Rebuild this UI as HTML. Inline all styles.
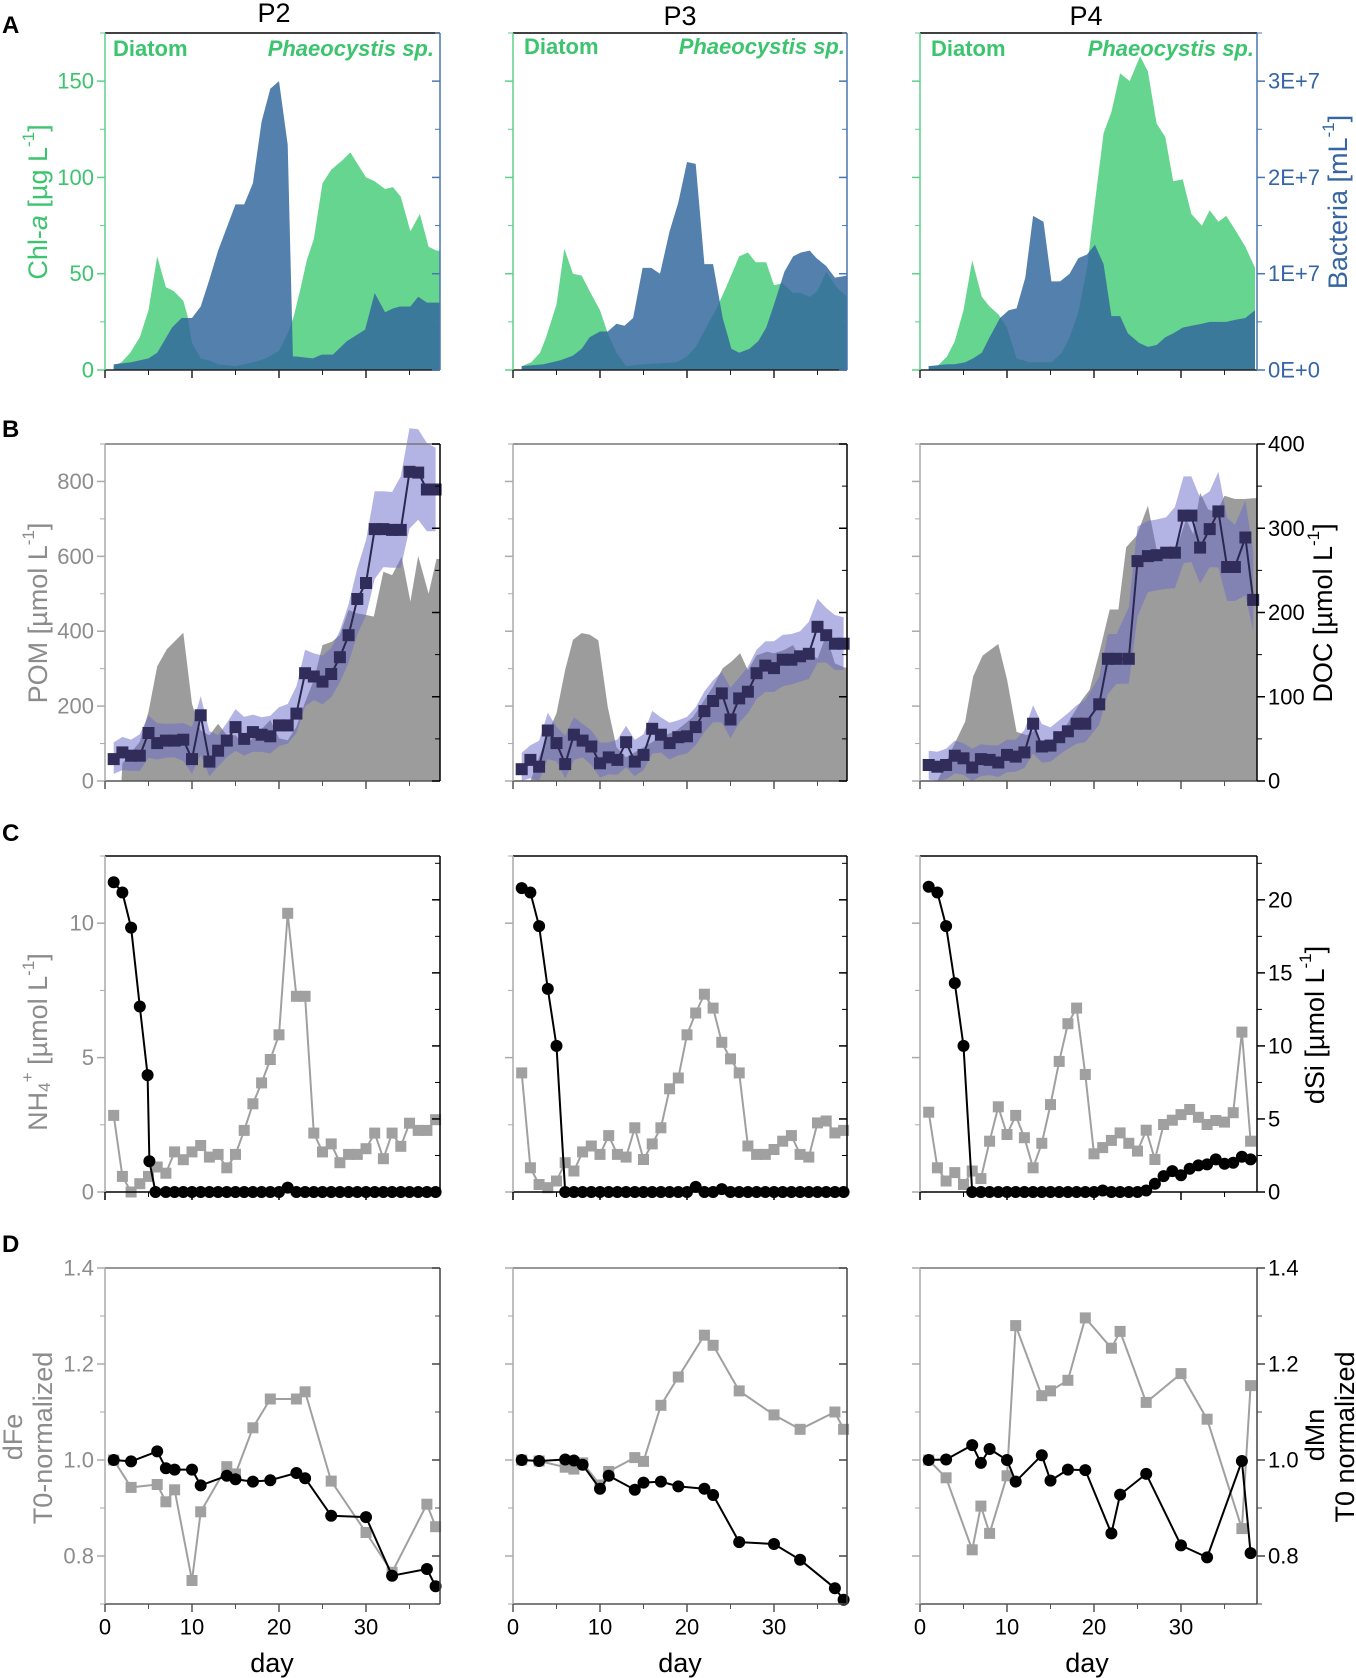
<!DOCTYPE html>
<html><head><meta charset="utf-8">
<style>
html,body{margin:0;padding:0;background:#fff;}
svg{display:block;font-family:"Liberation Sans",Arial,sans-serif;}
</style></head>
<body>
<svg id="fig" width="1356" height="1678" viewBox="0 0 1356 1678" xmlns="http://www.w3.org/2000/svg">
  <rect x="0" y="0" width="1356" height="1678" fill="#fff"/>
  <g id="marks"></g>
  <g id="axes"></g>
  <g font-weight="bold" font-size="24" fill="#000">
    <text x="2" y="33">A</text>
    <text x="2" y="437">B</text>
    <text x="2" y="841">C</text>
    <text x="2" y="1252">D</text>
  </g>
  <g font-size="27" fill="#000" text-anchor="middle">
    <text x="274" y="22">P2</text>
    <text x="680" y="25">P3</text>
    <text x="1086" y="25">P4</text>
  </g>
  <g font-size="22" font-weight="bold" fill="#3cc46e">
    <text x="113" y="56">Diatom</text>
    <text x="434" y="56" text-anchor="end" font-style="italic">Phaeocystis sp.</text>
    <text x="524" y="54">Diatom</text>
    <text x="845" y="54" text-anchor="end" font-style="italic">Phaeocystis sp.</text>
    <text x="931" y="56">Diatom</text>
    <text x="1254" y="56" text-anchor="end" font-style="italic">Phaeocystis sp.</text>
  </g>
  <g font-size="27">
    <text transform="translate(38,202) rotate(-90)" text-anchor="middle" dominant-baseline="central" fill="#3cc46e">Chl-<tspan font-style="italic">a</tspan> [µg L<tspan font-size="17" dy="-10">-1</tspan><tspan dy="10">]</tspan></text>
    <text transform="translate(1338,202) rotate(-90)" text-anchor="middle" dominant-baseline="central" fill="#3565a3">Bacteria [mL<tspan font-size="17" dy="-10">-1</tspan><tspan dy="10">]</tspan></text>
    <text transform="translate(38,613) rotate(-90)" text-anchor="middle" dominant-baseline="central" fill="#8c8c8c">POM [µmol L<tspan font-size="17" dy="-10">-1</tspan><tspan dy="10">]</tspan></text>
    <text transform="translate(1323,613) rotate(-90)" text-anchor="middle" dominant-baseline="central" fill="#000">DOC [µmol L<tspan font-size="17" dy="-10">-1</tspan><tspan dy="10">]</tspan></text>
    <text transform="translate(38,1042) rotate(-90)" text-anchor="middle" dominant-baseline="central" fill="#8c8c8c">NH<tspan font-size="17" dy="6">4</tspan><tspan font-size="17" dy="-17">+</tspan><tspan dy="11"> [µmol L</tspan><tspan font-size="17" dy="-10">-1</tspan><tspan dy="10">]</tspan></text>
    <text transform="translate(1315,1025) rotate(-90)" text-anchor="middle" dominant-baseline="central" fill="#000">dSi [µmol L<tspan font-size="17" dy="-10">-1</tspan><tspan dy="10">]</tspan></text>
    <text transform="translate(13,1437) rotate(-90)" text-anchor="middle" dominant-baseline="central" fill="#8c8c8c">dFe</text>
    <text transform="translate(43,1438) rotate(-90)" text-anchor="middle" dominant-baseline="central" fill="#8c8c8c">T0-normalized</text>
    <text transform="translate(1315,1435) rotate(-90)" text-anchor="middle" dominant-baseline="central" fill="#000">dMn</text>
    <text transform="translate(1345,1437) rotate(-90)" text-anchor="middle" dominant-baseline="central" fill="#000">T0 normalized</text>
    <text x="272" y="1663" text-anchor="middle" dominant-baseline="central">day</text>
    <text x="680" y="1663" text-anchor="middle" dominant-baseline="central">day</text>
    <text x="1087" y="1663" text-anchor="middle" dominant-baseline="central">day</text>
  </g>
</svg>
<script>
// ---------- Row A: Chl-a (µg/L) and bacteria (1E7 /mL) ----------
const chlP2Days=[1,1.9,2.9,4,5,6,7,7.9,9,9.5,10,11,12,13,15,17,18.5,20,21,21.7,22.5,23.2,24,25,26,27.3,28.2,30,31,32.2,33.1,34,35.1,36.2,37.2,38.1,38.5];
const chlP2=[2,4,9,17,31,59,43,41,36,28,14,6,5,3,2,4,6,10,19,28,43,57,68,97,104,109,113,100,98,94,95,90,72,81,64,62,62];
const bacP2Days=[1,3,5,6,7.7,8.8,10,11,12,13,15,16,17,18,19,20,21,21.6,22,23.9,24.9,26.2,27.8,29.9,31,32.2,33.1,33.9,35.1,36,37,38.5];
const bacP2=[0.06,0.08,0.12,0.18,0.44,0.54,0.54,0.66,0.94,1.24,1.72,1.72,1.94,2.58,2.92,3.0,2.34,0.14,0.14,0.12,0.16,0.16,0.3,0.42,0.8,0.6,0.64,0.66,0.66,0.76,0.7,0.7];
const chlP3Days=[1,2.1,3.1,3.8,5,5.9,6.9,7.9,8.8,10,10.9,11.9,13,15,18.8,20,21,22.2,23.4,24.5,26,27,27.9,29.1,30,31,32.2,33.1,34.1,35,36,37.2,38.4];
const chlP3=[2,4,9,17,34,63,50,49,41,31,19,9,2,3,4,7,12,22,32,43,59,61,56,56,44,45,40,40,38,41,51,43,38];
const bacP3Days=[1,3.5,5.4,6.9,7.9,8.8,10,10.9,11.9,12.8,13.8,14.9,15.9,16.9,18,19,20,21,22,23,24.1,25.1,26,27.2,28.2,29.1,30,31.2,32.2,33.1,34.1,34.9,36,37,38.4];
const bacP3=[0.04,0.06,0.1,0.15,0.22,0.34,0.4,0.4,0.48,0.46,0.54,1.06,1.06,1.0,1.44,1.74,2.16,2.14,1.1,1.1,0.54,0.22,0.18,0.22,0.3,0.44,0.68,1.02,1.18,1.22,1.24,1.16,1.08,0.96,0.98];
const chlP4Days=[1,2,3.1,4,5,6,7.1,8,9,10,11.1,12.6,15.1,16.3,17.2,18.2,19.2,20.1,21.1,22,23,24.1,25.3,26.2,27.2,28.2,29.1,30.2,31.2,32.4,33.3,34.3,35.2,36.2,37.4,38.5];
const chlP4=[2,2,7,15,31,57,38,33,29,22,6,4,4,9,17,30,53,87,123,134,154,150,163,155,128,121,98,99,81,75,83,77,80,73,64,53];
const bacP4Days=[1,3.1,4,5.2,6.1,7.1,8,9.2,10.2,11.1,12.1,13,14.2,15.1,16.1,17.2,18.2,19.2,20.1,21.1,22,23,23.9,25.2,26.2,27.2,28.2,29.1,30.2,31.2,32.4,33.3,34.3,35.2,36.2,37.4,38.5];
const bacP4=[0.04,0.06,0.06,0.08,0.12,0.18,0.34,0.54,0.62,0.64,0.96,1.6,1.54,0.92,0.92,1.0,1.16,1.2,1.3,1.1,0.56,0.56,0.38,0.28,0.24,0.26,0.34,0.38,0.44,0.46,0.48,0.5,0.5,0.5,0.52,0.54,0.62];

// ---------- Row B: POM (gray area) and DOC (squares) ----------
const pomP2Days=[1.9,2,4,5,6,7.1,9,10,11,12,13,14,15,16,17,19,20,21,22,23,24,25,26.1,27,28,28.9,29.9,30.9,32,33,34.1,35.1,36,37.2,38.1,38.5];
const pomP2=[0,47,105,185,306,352,396,206,135,122,153,122,122,96,114,163,114,109,145,211,269,363,372,390,457,448,444,439,559,550,599,479,601,500,593,593];
const docP2Days=[1,2,3,4,5,6,7,8,9,10,11,12,13,14,15,16,17,18,19,20,21,22,23,24,25,26,27,28,29,30,31,32,33,34,35,36,37,38];
const docP2=[26,34,30,30,57,45,48,48,49,26,78,23,36,48,64,50,58,55,53,66,66,80,128,124,118,127,147,173,216,235,299,299,298,298,367,366,346,346];
const pomP3Days=[2,4,5,6,6.9,7.9,8.8,9.8,10.9,11.9,13,15,16.9,18.8,20.7,23,24.1,25.1,26.1,27,28,29.2,30,31.2,32.2,33.1,34.1,35,36,37,38.1,38.4];
const pomP3=[0,127,181,297,377,395,391,376,197,90,63,90,117,135,171,252,301,319,341,296,336,345,341,350,363,323,341,327,390,314,303,303];
const docP3Days=[1,2,3,4,5,6,7,8,9,10,11,12,13,14,15,16,17,18,19,20,21,22,23,24,25,26,27,28,29,30,31,32,33,34,35,36,37,38];
const docP3=[14,25,17,60,45,20,55,48,41,21,28,25,46,23,31,62,55,45,52,53,64,83,95,104,73,98,106,128,137,134,144,144,148,151,183,173,163,163];
const pomP4Days=[2,4,5.2,6.1,7.2,9,10,11.1,12.3,13.2,14.2,15.3,16.5,17.6,18.6,19.5,20.7,21.8,22.8,23.7,24.9,26.2,27.2,28.3,29.5,30.6,31.4,32.2,33.1,34.1,35,36.2,37.3,38.3,38.7];
const pomP4=[0,101,159,279,335,366,272,131,122,136,84,113,136,178,216,244,351,458,458,624,655,735,619,601,624,699,659,770,726,717,762,753,753,755,755];
const docP4Days=[1,2,3,4,5,6,7,8,9,10,11,12,13,14,15,16,17,18,19,20.6,21.6,22.6,24,25,26.2,27.2,28.3,29.3,30.3,31.2,32.2,33.3,34.3,35.3,36.2,37.4,38.3];
const docP4=[19,17,19,30,27,16,26,25,22,31,29,34,68,41,42,52,59,68,68,91,145,145,145,261,267,268,271,271,315,315,277,299,320,254,254,289,215];

// ---------- Row C: NH4+ (gray squares) and dSi (black circles) ----------
const nh4Days=[1,2,3,4,5,6,7,8,9,10,11,12,13,14,15,16,17,18,19,20,21,22,23,24,25,26,27,28,29,30,31,32,33,34,35,36,37,38];
const nh4P2=[2.85,0.58,0,0.31,0.58,0.93,0.7,1.49,1.2,1.49,1.73,1.3,1.4,0.9,1.4,2.29,3.28,4.06,4.93,5.85,10.37,7.28,7.28,2.19,1.49,1.79,1.09,1.4,1.4,1.61,2.19,1.24,2.19,1.7,2.56,2.29,2.29,2.69];
const nh4P3=[4.43,0.9,0.28,0.16,0.41,1.09,0.78,1.49,1.71,1.4,2.1,1.4,1.3,2.39,1.21,1.79,2.39,3.84,4.24,5.85,6.66,7.36,6.84,5.57,4.95,4.43,1.71,1.4,1.4,1.58,1.89,2.1,1.4,1.3,2.57,2.64,2.2,2.29];
const nh4P4=[2.97,0.9,0.41,0.72,0.28,0.78,0.5,1.89,3.17,2.14,2.85,2.02,0.9,1.81,3.25,4.86,6.26,6.84,4.37,1.42,1.65,1.92,2.2,1.81,1.52,2.3,1.21,2.51,2.67,2.88,3.07,2.78,2.51,2.66,2.6,2.95,5.95,1.89];
const dsiP2Days=[1,2,3,4,4.9,5.1,5.8,7,8,9,10,11,12,13,14,15,16,17,18,19,20,21,22,23,24,25,26,27,28,29,30,31,32,33,34,35,36,37,38];
const dsiP2=[21.2,20.5,18.1,12.7,8.0,2.1,0,0,0,0,0,0,0,0,0,0,0,0,0,0,0,0.3,0,0,0,0,0,0,0,0,0,0,0,0,0,0,0,0,0];
const dsiDays=[1,2,3,4,5,6,7,8,9,10,11,12,13,14,15,16,17,18,19,20,21,22,23,24,25,26,27,28,29,30,31,32,33,34,35,36,37,38];
const dsiP3=[20.8,20.5,18.2,13.9,10.0,0,0,0,0,0,0,0,0,0,0,0,0,0,0,0,0.35,0,0,0.2,0,0,0,0,0,0,0,0,0,0,0,0,0,0];
const dsiP4=[20.9,20.5,18.2,14.3,10.0,0,0,0,0,0,0,0,0,0,0,0,0,0,0,0,0.1,0,0,0,0,0.1,0.57,1.09,1.43,1.14,1.59,1.82,1.89,2.23,1.94,2.0,2.41,2.23];

// ---------- Row D: dFe (gray) and dMn (black), T0 normalized ----------
const metalDays=[1,3,6,7,8,10,11,14,15,17,19,22,23,26,30,33,37,38];
const feP2=[1.0,0.943,0.949,0.913,0.938,0.749,0.892,0.986,0.971,1.067,1.127,1.127,1.142,0.956,0.849,0.766,0.908,0.861];
const mnP2=[1.0,0.997,1.018,0.983,0.98,0.98,0.947,0.967,0.96,0.955,0.958,0.973,0.962,0.884,0.881,0.759,0.773,0.737];
const feP3=[1.0,0.998,0.985,0.981,0.994,0.948,0.976,1.005,0.997,1.114,1.173,1.26,1.239,1.144,1.094,1.064,1.1,1.064];
const mnP3=[1.0,0.998,1.001,0.999,0.99,0.94,0.967,0.938,0.953,0.955,0.945,0.94,0.927,0.829,0.825,0.792,0.733,0.709];
const feP4=[1.0,0.963,0.813,0.904,0.847,0.967,1.28,1.134,1.144,1.166,1.296,1.233,1.268,1.12,1.18,1.085,0.857,1.155];
const mnP4=[1.0,1.001,1.031,0.994,1.023,1.0,0.955,1.01,0.957,0.98,0.979,0.847,0.928,0.971,0.822,0.797,0.998,0.806];

// ---------- Tick labels ----------
const tickChl=[0,50,100,150];
const tickBac=[0,1,2,3];
const tickBacLabels=["0E+0","1E+7","2E+7","3E+7"];
const tickPom=[0,200,400,600,800];
const tickDoc=[0,100,200,300,400];
const tickNh4=[0,5,10];
const tickDsi=[0,5,10,15,20];
const tickNorm=[0.8,1.0,1.2,1.4];
const tickNormLabels=["0.8","1.0","1.2","1.4"];
const tickDay=[0,10,20,30];

const NS="http://www.w3.org/2000/svg";
const marks=document.getElementById('marks');
const axes=document.getElementById('axes');
const COLX=[105,513,920];
const COLW=[335,334,337];
const DAYPX=8.7;
const ROWS={A:[33,370],B:[444,781],C:[856,1192],D:[1268,1604]};

function mk(tag,attrs,parent){
  const el=document.createElementNS(NS,tag);
  for(const k in attrs) el.setAttribute(k,attrs[k]);
  parent.appendChild(el);
  return el;
}
function xScale(c){return d=>COLX[c]+d*DAYPX;}
function yScale(row,d0,d1){const [t,b]=ROWS[row];return v=>b-(v-d0)*(b-t)/(d1-d0);}

function area(days,vals,x,y,base,fill,op,name){
  let d='M'+x(days[0]).toFixed(1)+','+base;
  for(let i=0;i<days.length;i++) d+=' L'+x(days[i]).toFixed(1)+','+y(vals[i]).toFixed(1);
  d+=' L'+x(days[days.length-1]).toFixed(1)+','+base+' Z';
  const p=mk('path',{d:d,fill:fill,'fill-opacity':op},marks);
  
  
}
function line(days,vals,x,y,stroke,w,name){
  let d='';
  for(let i=0;i<days.length;i++) d+=(i?' L':'M')+x(days[i]).toFixed(1)+','+y(vals[i]).toFixed(1);
  const p=mk('path',{d:d,fill:'none',stroke:stroke,'stroke-width':w,'stroke-linejoin':'round'},marks);
  
  
}
function squares(days,vals,x,y,fill,s,name){
  for(let i=0;i<days.length;i++){
    const r=mk('rect',{x:(x(days[i])-s/2).toFixed(1),y:(y(vals[i])-s/2).toFixed(1),width:s,height:s,fill:fill},marks);
    
    
  }
}
function circles(days,vals,x,y,fill,rad,name){
  for(let i=0;i<days.length;i++){
    const c=mk('circle',{cx:x(days[i]).toFixed(1),cy:y(vals[i]).toFixed(1),r:rad,fill:fill},marks);
    
    
  }
}
function band(days,vals,x,y,name){
  // smoothed envelope around the DOC series
  const n=vals.length;
  const sm=vals.map((v,i)=>{const a=vals[Math.max(0,i-1)],b=vals[Math.min(n-1,i+1)];return (a+2*v+b)/4;});
  let up='',lo='';
  for(let i=0;i<n;i++){
    up+=(i?' L':'M')+x(days[i]).toFixed(1)+','+y(Math.max(vals[i],sm[i])*1.1+15).toFixed(1);
  }
  for(let i=n-1;i>=0;i--){
    lo+=' L'+x(days[i]).toFixed(1)+','+y(Math.max(0,Math.min(vals[i],sm[i])*0.9-15)).toFixed(1);
  }
  const p=mk('path',{d:up+lo+' Z',fill:'rgb(105,105,201)','fill-opacity':0.5},marks);
  
  
}

function frame(c,row,colors,lTicks,lMinor,yl,rTicks,rMinor,yr,lLabels,rLabels,lColor,rColor,showLeft,showRight,showX){
  const [t,b]=ROWS[row];const x0=COLX[c],x1=COLX[c]+COLW[c];
  const g=mk('g',{},axes);
  
  
  mk('line',{x1:x0,y1:t,x2:x1,y2:t,stroke:colors.top,'stroke-width':1.5},g);
  mk('line',{x1:x0,y1:b,x2:x1,y2:b,stroke:colors.bottom,'stroke-width':1.5},g);
  mk('line',{x1:x0,y1:t,x2:x0,y2:b,stroke:colors.left,'stroke-width':1.5},g);
  mk('line',{x1:x1,y1:t,x2:x1,y2:b,stroke:colors.right,'stroke-width':1.5},g);
  const rd=(c===2)?1:-1;
  lMinor.forEach(v=>mk('line',{x1:x0-5,y1:yl(v),x2:x0,y2:yl(v),stroke:colors.left,'stroke-width':1},g));
  lTicks.forEach(v=>mk('line',{x1:x0-8,y1:yl(v),x2:x0,y2:yl(v),stroke:colors.left,'stroke-width':1.5},g));
  rMinor.forEach(v=>mk('line',{x1:x1,y1:yr(v),x2:x1+5*rd,y2:yr(v),stroke:colors.right,'stroke-width':1},g));
  rTicks.forEach(v=>mk('line',{x1:x1,y1:yr(v),x2:x1+8*rd,y2:yr(v),stroke:colors.right,'stroke-width':1.5},g));
  const xs=xScale(c);
  [5,15,25,35].forEach(d=>mk('line',{x1:xs(d),y1:b,x2:xs(d),y2:b+5,stroke:colors.bottom,'stroke-width':1},g));
  tickDay.forEach(d=>mk('line',{x1:xs(d),y1:b,x2:xs(d),y2:b+8,stroke:colors.bottom,'stroke-width':1.5},g));
  if(showLeft){
    lTicks.forEach((v,i)=>{
      const tx=mk('text',{x:x0-11,y:yl(v),'text-anchor':'end','dominant-baseline':'central','font-size':22,fill:lColor},g);
      tx.textContent=lLabels[i];
      
      
    });
  }
  if(showRight){
    rTicks.forEach((v,i)=>{
      const tx=mk('text',{x:x1+11,y:yr(v),'text-anchor':'start','dominant-baseline':'central','font-size':22,fill:rColor},g);
      tx.textContent=rLabels[i];
      
      
    });
  }
  if(showX){
    tickDay.forEach(d=>{
      const tx=mk('text',{x:xs(d),y:b+23,'text-anchor':'middle','dominant-baseline':'central','font-size':22,fill:'#000'},g);
      tx.textContent=String(d);
      
      
    });
  }
}
function range(a,b,s){const r=[];for(let v=a;v<=b+1e-9;v+=s)r.push(Math.round(v*1000)/1000);return r;}

const chlSets=[[chlP2Days,chlP2,bacP2Days,bacP2],[chlP3Days,chlP3,bacP3Days,bacP3],[chlP4Days,chlP4,bacP4Days,bacP4]];
const pomSets=[[pomP2Days,pomP2,docP2Days,docP2],[pomP3Days,pomP3,docP3Days,docP3],[pomP4Days,pomP4,docP4Days,docP4]];
const ncSets=[[nh4Days,nh4P2,dsiP2Days,dsiP2],[nh4Days,nh4P3,dsiDays,dsiP3],[nh4Days,nh4P4,dsiDays,dsiP4]];
const mSets=[[feP2,mnP2],[feP3,mnP3],[feP4,mnP4]];

for(let c=0;c<3;c++){
  const x=xScale(c);
  const yChl=yScale('A',0,175), yBac=yScale('A',0,3.5);
  area(chlSets[c][0],chlSets[c][1],x,yChl,ROWS.A[1],'rgb(102,213,143)',1,'chla-area');
  area(chlSets[c][2],chlSets[c][3],x,yBac,ROWS.A[1],'rgb(51,104,157)',0.84,'bacteria-area');
  frame(c,'A',{top:'#000',bottom:'#222',left:'#5fd08a',right:'#4a76b0'},tickChl,range(25,175,50),yChl,tickBac,range(0.5,3.5,1),yBac,
    tickChl.map(String),tickBacLabels,'#3cc46e','#3565a3',c===0,c===2,false);
  const yPom=yScale('B',0,900), yDoc=yScale('B',0,400);
  area(pomSets[c][0],pomSets[c][1],x,yPom,ROWS.B[1],'#9c9c9c',1,'pom-area');
  band(pomSets[c][2],pomSets[c][3],x,yDoc,'doc-error-band');
  line(pomSets[c][2],pomSets[c][3],x,yDoc,'#2a2850',2,'doc-line');
  squares(pomSets[c][2],pomSets[c][3],x,yDoc,'#302d5a',12,'doc-point');
  frame(c,'B',{top:'#777',bottom:'#555',left:'#aaa',right:'#000'},tickPom,range(100,900,200),yPom,tickDoc,range(50,350,100),yDoc,
    tickPom.map(String),tickDoc.map(String),'#8c8c8c','#000',c===0,c===2,false);
  const yN=yScale('C',0,12.5), yS=yScale('C',0,23);
  line(ncSets[c][0],ncSets[c][1],x,yN,'#a0a0a0',2,'nh4-line');
  squares(ncSets[c][0],ncSets[c][1],x,yN,'#a0a0a0',11,'nh4-point');
  line(ncSets[c][2],ncSets[c][3],x,yS,'#000',2,'dsi-line');
  circles(ncSets[c][2],ncSets[c][3],x,yS,'#000',6,'dsi-point');
  frame(c,'C',{top:'#000',bottom:'#000',left:'#aaa',right:'#000'},tickNh4,range(2.5,12.5,5),yN,tickDsi,range(2.5,22.5,5),yS,
    tickNh4.map(String),tickDsi.map(String),'#8c8c8c','#000',c===0,c===2,false);
  const yD=yScale('D',0.7,1.4);
  line(metalDays,mSets[c][0],x,yD,'#a0a0a0',2,'dfe-line');
  squares(metalDays,mSets[c][0],x,yD,'#a0a0a0',11,'dfe-point');
  line(metalDays,mSets[c][1],x,yD,'#000',2,'dmn-line');
  circles(metalDays,mSets[c][1],x,yD,'#000',6,'dmn-point');
  frame(c,'D',{top:'#777',bottom:'#555',left:'#aaa',right:'#444'},tickNorm,range(0.7,1.3,0.2),yD,tickNorm,range(0.7,1.3,0.2),yD,
    tickNormLabels,tickNormLabels,'#8c8c8c','#000',c===0,c===2,true);
}
</script>
</body></html>
